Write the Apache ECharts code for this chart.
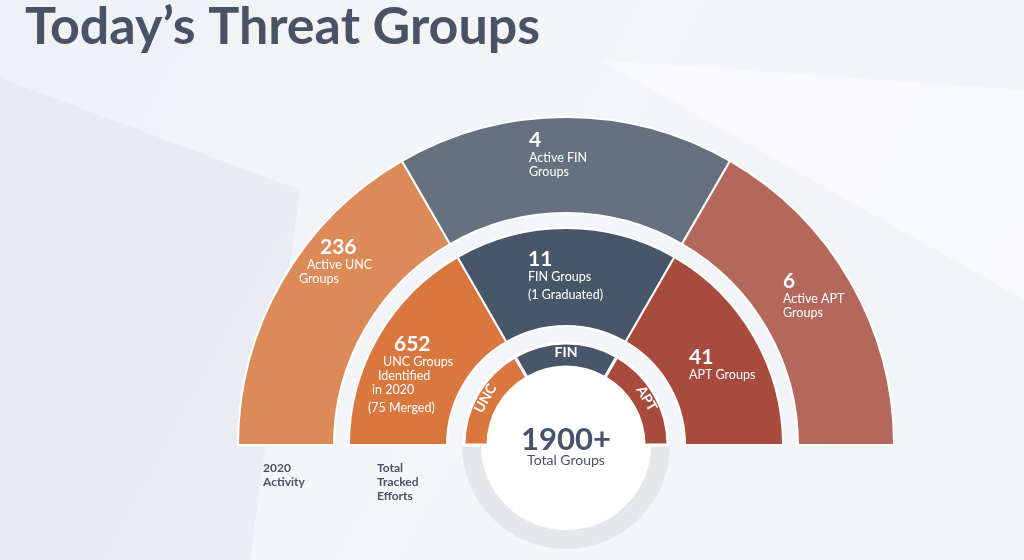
<!DOCTYPE html>
<html>
<head>
<meta charset="utf-8">
<script src="https://cdn.jsdelivr.net/npm/echarts@6/dist/echarts.min.js"></script>
<style>html,body{margin:0;padding:0;background:#f3f5f8;}#c{width:1024px;height:560px;}</style>
</head>
<body>
<div id="c"></div>
<script>
// ---- data ----
const groups = ['UNC', 'FIN', 'APT'];
const ringShare = [1, 1, 1];              // equal wedges in the diagram
const activeCounts = [236, 4, 6];         // 2020 activity
const trackedCounts = [652, 11, 41];      // total tracked efforts
const trackedNotes = [
  ['UNC Groups', 'Identified', 'in 2020', '(75 Merged)'],
  ['FIN Groups', '(1 Graduated)'],
  ['APT Groups']
];
const totalLabel = '1900+';
const totalSub = 'Total Groups';
const ringTitles = ['2020\nActivity', 'Total\nTracked\nEfforts'];

// ---- styling / layout ----
const FONT = 'Lato, "Open Sans", sans-serif';
const outerColors = ['#dc8b58', '#66717f', '#b4675b'];
const middleColors = ['#d9773f', '#485669', '#a94b3c'];
const innerColors = ['#d9773f', '#485669', '#a94b3c'];
const C = [566, 445];
// label anchor (top-left) per wedge, and per-line indents
const outerPos = [[299, 236], [529, 129], [783, 270]];
const outerIndent = [[21, 8, 0], [0, 0, 0], [0, 0, 0]];
const midPos = [[368, 333], [528, 248], [689, 346]];
const midIndent = [[26, 15, 10, 4, 0], [0, 0, 0], [0, 0]];

function richLines(num, lines, indent) {
  const rich = {};
  let s = '{n|' + num + '}';
  rich.n = { fontSize: 21, fontWeight: 'bold', color: '#fff', fontFamily: FONT, lineHeight: 22, padding: [0, 0, 0, indent[0]] };
  lines.forEach((t, i) => {
    const k = 't' + i;
    const last = (i === lines.length - 1 && lines.length > 1 && t.startsWith('('));
    rich[k] = { fontSize: 12.5, color: '#fff', fontFamily: FONT, lineHeight: last ? 17 : 14, padding: [last ? 4 : 0, 0, 0, indent[i + 1] || 0] };
    s += '\n{' + k + '|' + t + '}';
  });
  return { formatter: s, rich: rich };
}

const outerData = groups.map((g, i) => {
  const r = richLines(activeCounts[i], ['Active ' + g, 'Groups'], outerIndent[i]);
  return { name: g, value: ringShare[i], itemStyle: { color: outerColors[i] },
    label: { formatter: r.formatter, rich: r.rich } };
});
const midData = groups.map((g, i) => {
  const r = richLines(trackedCounts[i], trackedNotes[i], midIndent[i]);
  return { name: g, value: ringShare[i], itemStyle: { color: middleColors[i] },
    label: { formatter: r.formatter, rich: r.rich } };
});
const innerData = groups.map((g, i) => ({ name: g, value: ringShare[i], itemStyle: { color: innerColors[i] } }));

const chart = echarts.init(document.getElementById('c'), null, { renderer: 'canvas' });
chart.setOption({
  backgroundColor: {
    type: 'linear', x: 0, y: 0, x2: 1, y2: 1,
    colorStops: [{ offset: 0, color: '#eef1f6' }, { offset: 0.5, color: '#f5f6f9' }, { offset: 1, color: '#f1f3f7' }]
  },
  title: {
    text: 'Today’s Threat Groups', left: 20, top: -4,
    textStyle: { fontFamily: FONT, fontSize: 52, fontWeight: 'bold', color: '#4a5366' }
  },
  graphic: [
    { type: 'polygon', z: -10, silent: true, shape: { points: [[0, 78], [300, 190], [250, 560], [0, 560]] }, style: { fill: 'rgba(215,220,232,0.3)' } },
    { type: 'polygon', z: -10, silent: true, shape: { points: [[600, 60], [1024, 90], [1024, 300]] }, style: { fill: 'rgba(255,255,255,0.45)' } },
    { type: 'text', left: 263, top: 461, style: { text: ringTitles[0], fontFamily: FONT, fontSize: 12, fontWeight: 'bold', fill: '#4b5263', lineHeight: 14 } },
    { type: 'text', left: 377, top: 461, style: { text: ringTitles[1], fontFamily: FONT, fontSize: 12, fontWeight: 'bold', fill: '#4b5263', lineHeight: 14 } },
    { type: 'text', x: C[0], y: 440, z: 100, style: { text: totalLabel, fontFamily: FONT, fontSize: 31, fontWeight: 'bold', fill: '#46536a', align: 'center', verticalAlign: 'middle' } },
    { type: 'text', x: C[0], y: 460, z: 100, style: { text: totalSub, fontFamily: FONT, fontSize: 14, fill: '#4b5263', align: 'center', verticalAlign: 'middle' } }
  ],
  series: [
    { // grey rim under centre disk (bottom half)
      type: 'pie', silent: true, center: C, radius: [85, 104], startAngle: 0, endAngle: -180, clockwise: true,
      label: { show: false }, labelLine: { show: false }, z: 1,
      data: [{ value: 1, itemStyle: { color: '#e6e7eb' } }]
    },
    { // white centre disk
      type: 'pie', silent: true, center: C, radius: [0, 85], z: 2,
      label: { show: false }, labelLine: { show: false },
      data: [{ value: 1, itemStyle: { color: '#ffffff' } }]
    },
    { // outer ring: 2020 activity
      type: 'pie', center: C, radius: [232, 328], startAngle: 180, endAngle: 0, clockwise: true, z: 3,
      itemStyle: { borderColor: '#ffffff', borderWidth: 2 },
      label: { show: true, position: 'inside' }, labelLine: { show: false },
      labelLayout: p => ({ x: outerPos[p.dataIndex][0], y: outerPos[p.dataIndex][1], align: 'left', verticalAlign: 'top' }),
      emphasis: { disabled: true },
      data: outerData
    },
    { // middle ring: total tracked
      type: 'pie', center: C, radius: [119, 217], startAngle: 180, endAngle: 0, clockwise: true, z: 3,
      itemStyle: { borderColor: '#ffffff', borderWidth: 2 },
      label: { show: true, position: 'inside' }, labelLine: { show: false },
      labelLayout: p => ({ x: midPos[p.dataIndex][0], y: midPos[p.dataIndex][1], align: 'left', verticalAlign: 'top' }),
      emphasis: { disabled: true },
      data: midData
    },
    { // inner ring: group names
      type: 'pie', center: C, radius: [78, 102], startAngle: 180, endAngle: 0, clockwise: true, z: 4,
      itemStyle: { borderColor: '#ffffff', borderWidth: 3 },
      label: { show: true, position: 'inside', rotate: 'tangential', formatter: '{b}', color: '#fff', fontFamily: FONT, fontWeight: 'bold', fontSize: 14 },
      labelLine: { show: false },
      emphasis: { disabled: true },
      data: innerData
    }
  ]
});
</script>
</body>
</html>
